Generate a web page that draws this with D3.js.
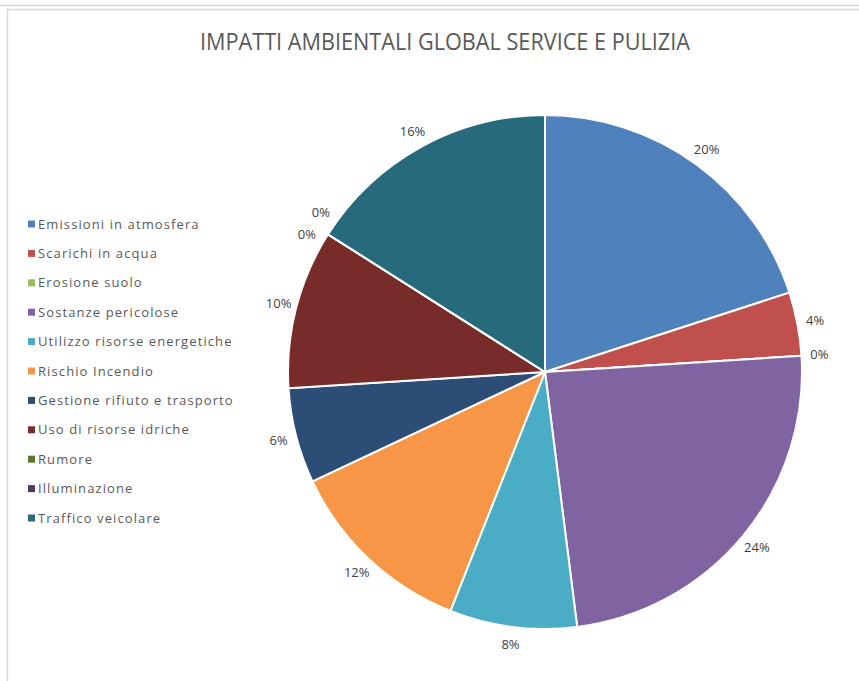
<!DOCTYPE html>
<html>
<head>
<meta charset="utf-8">
<script src="https://cdn.jsdelivr.net/npm/d3@7"></script>
<style>
  body { margin: 0; background: #fff; }
  text { font-family: "Open Sans", "Liberation Sans", sans-serif; }
</style>
</head>
<body>
<div id="chart"></div>
<script>
// data (percent of total)
const categories = ["Emissioni in atmosfera", "Scarichi in acqua", "Erosione suolo", "Sostanze pericolose",
  "Utilizzo risorse energetiche", "Rischio Incendio", "Gestione rifiuto e trasporto", "Uso di risorse idriche",
  "Rumore", "Illuminazione", "Traffico veicolare"];
const values = [20, 4, 0, 24, 8, 12, 6, 10, 0, 0, 16];
const colors = ["#4F81BD", "#C0504D", "#9BBB59", "#8064A2", "#4BACC6", "#F79646",
  "#2C4D75", "#772C2A", "#5F7530", "#4D3B62", "#276A7C"];
const title = "IMPATTI AMBIENTALI GLOBAL SERVICE E PULIZIA";

const data = categories.map((c, i) => ({ name: c, value: values[i], color: colors[i] }));

const width = 859, height = 681;
const cx = 545, cy = 372, radius = 257;

const svg = d3.select("#chart")
    .append("svg")
    .attr("width", width)
    .attr("height", height);

// outer frame lines
svg.append("line")
    .attr("x1", 0).attr("x2", width)
    .attr("y1", 5.5).attr("y2", 5.5)
    .attr("stroke", "#d9d9d9").attr("stroke-width", 1.5);
svg.append("rect")
    .attr("x", 7.5).attr("y", 9.5)
    .attr("width", width + 10).attr("height", height + 10)
    .attr("fill", "none")
    .attr("stroke", "#d9d9d9").attr("stroke-width", 1.5);

svg.append("text")
    .attr("x", 445)
    .attr("y", 50)
    .attr("text-anchor", "middle")
    .attr("font-size", 23)
    .attr("fill", "#595959")
    .attr("textLength", 490)
    .attr("lengthAdjust", "spacingAndGlyphs")
    .text(title);

const pie = d3.pie().value(d => d.value).sort(null);
const arcs = pie(data);
const arc = d3.arc().innerRadius(0).outerRadius(radius);

const g = svg.append("g").attr("transform", `translate(${cx},${cy})`);

g.selectAll("path")
    .data(arcs)
    .enter()
    .append("path")
    .attr("d", arc)
    .attr("fill", d => d.data.color)
    .attr("stroke", "#fff")
    .attr("stroke-width", 2);

// labels around the outside; zero slices that share an angle get spread apart
const labelArc = d3.arc().innerRadius(275).outerRadius(275);
const groups = d3.group(arcs.filter(d => d.value === 0), d => d.startAngle);
const nudge = new Map();
groups.forEach(list => {
  list.forEach((d, k) => nudge.set(d.index, list.length > 1 ? (k === 0 ? [-6, 10] : [8, -12]) : [0, 0]));
});

g.selectAll(".pct")
    .data(arcs)
    .enter()
    .append("text")
    .attr("class", "pct")
    .attr("transform", d => {
      const [x, y] = labelArc.centroid(d);
      const [nx, ny] = nudge.get(d.index) || [0, 0];
      return `translate(${x + nx},${y + ny})`;
    })
    .attr("text-anchor", "middle")
    .attr("dy", "0.35em")
    .attr("font-size", 13)
    .attr("fill", "#404040")
    .text(d => d.value + "%");

// legend
const legendY = d3.scalePoint()
    .domain(categories)
    .range([224, 518]);

const legend = svg.append("g");
const item = legend.selectAll("g")
    .data(data)
    .enter()
    .append("g")
    .attr("transform", d => `translate(28,${legendY(d.name)})`);

item.append("rect")
    .attr("x", 0).attr("y", -3.5)
    .attr("width", 7).attr("height", 7)
    .attr("fill", d => d.color);

item.append("text")
    .attr("x", 10)
    .attr("dy", "0.35em")
    .attr("font-size", 13)
    .attr("letter-spacing", 1.1)
    .attr("fill", "#595959")
    .text(d => d.name);
</script>
</body>
</html>
